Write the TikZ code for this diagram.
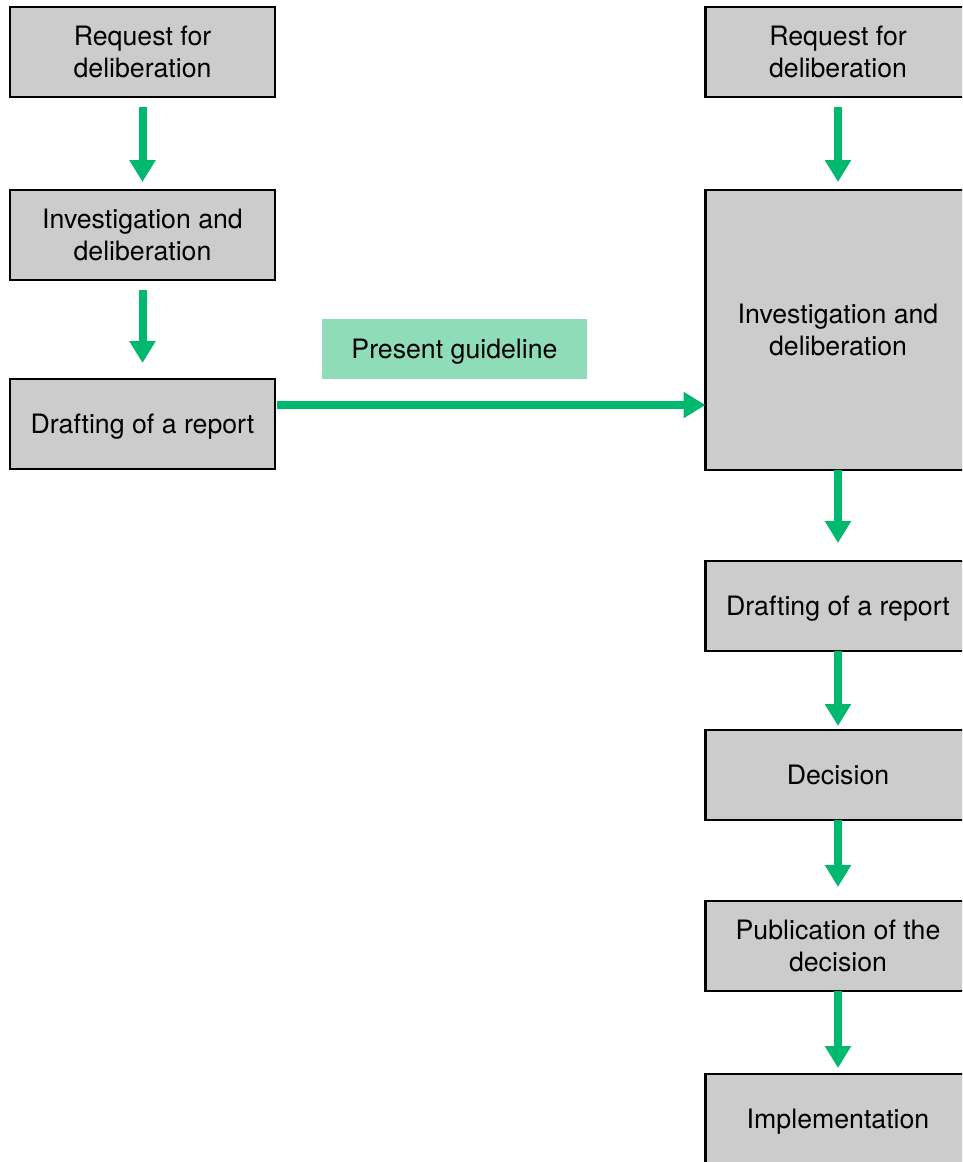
\documentclass[tikz,border=0pt]{standalone}
\usepackage{fontspec}
\setmainfont{TeX Gyre Heros}
\usetikzlibrary{arrows.meta}
\definecolor{boxgray}{HTML}{CCCCCC}
\definecolor{arrgreen}{HTML}{00B96E}
\definecolor{lightgreen}{HTML}{8FDCB8}
\begin{document}
\begin{tikzpicture}[x=1pt,y=-1pt,
  stepbox/.style={draw=black, line width=2.5pt, fill=boxgray, minimum width=265pt, minimum height=90pt, align=center, inner sep=0pt, outer sep=0pt, text depth=0pt, font=\fontsize{26.7}{32}\selectfont},
  arr/.style={draw=arrgreen, line width=8pt, -{Triangle[width=25pt,length=22pt]}},
  lbl/.style={fill=lightgreen, minimum width=265pt, minimum height=60pt, inner sep=0pt, text depth=0pt, font=\fontsize{26.7}{32}\selectfont}]
\useasboundingbox (0,0) rectangle (962,1162);
\begin{scope}
\clip (0,0) rectangle (962,1162);
\node[stepbox] (l1) at (142.5,52) {Request for\\deliberation};
\node[stepbox] (l2) at (142.5,235) {Investigation and\\deliberation};
\node[stepbox] (l3) at (142.5,424) {Drafting of a report};
\node[stepbox] (r1) at (838,52) {Request for\\deliberation};
\node[stepbox, minimum height=280pt] (r2) at (838,330) {Investigation and\\deliberation};
\node[stepbox] (r3) at (838,606) {Drafting of a report};
\node[stepbox] (r4) at (838,775) {Decision};
\node[stepbox] (r5) at (838,946) {Publication of the\\decision};
\node[stepbox] (r6) at (838,1119) {Implementation};
\node[lbl] (g) at (454.5,349) {Present guideline};
\draw[arr] ([yshift=-10pt]l1.south) -- ([yshift=8pt]l2.north);
\draw[arr] ([yshift=-10pt]l2.south) -- ([yshift=16pt]l3.north);
\draw[arr] ([yshift=-10pt]r1.south) -- ([yshift=8pt]r2.north);
\draw[arr] (r2.south) -- ([yshift=18pt]r3.north);
\draw[arr] (r3.south) -- ([yshift=4pt]r4.north);
\draw[arr] (r4.south) -- ([yshift=14pt]r5.north);
\draw[arr] (r5.south) -- ([yshift=6pt]r6.north);
\draw[arr] ([xshift=2pt,yshift=19pt]l3.east) -- ([yshift=-75pt]r2.west);
\end{scope}
\end{tikzpicture}
\end{document}
